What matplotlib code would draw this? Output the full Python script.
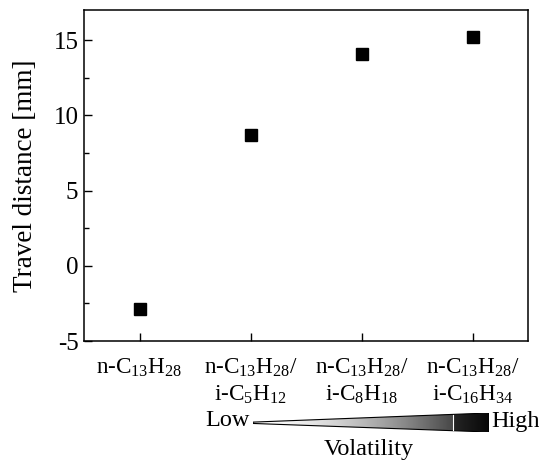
import matplotlib
matplotlib.use("Agg")
import matplotlib.pyplot as plt
import numpy as np
from matplotlib.patches import Polygon

plt.rcParams['font.family'] = ['Liberation Serif', 'DejaVu Serif']
plt.rcParams['mathtext.fontset'] = 'custom'
plt.rcParams['mathtext.rm'] = 'Liberation Serif'
plt.rcParams['mathtext.it'] = 'Liberation Serif:italic'
plt.rcParams['axes.unicode_minus'] = False

categories = ["n-C$_{13}$H$_{28}$",
              "n-C$_{13}$H$_{28}$/\ni-C$_5$H$_{12}$",
              "n-C$_{13}$H$_{28}$/\ni-C$_8$H$_{18}$",
              "n-C$_{13}$H$_{28}$/\ni-C$_{16}$H$_{34}$"]
travel = [-2.9, 8.7, 14.1, 15.2]
yticks = [-5, 0, 5, 10, 15]

fig = plt.figure(figsize=(5.39, 4.66), dpi=100)
ax = fig.add_axes([84/539, 1-341/466, (528-84)/539, (341-10)/466])
x = np.arange(len(categories))
ax.plot(x, travel, 's', color='black', markersize=8.5, linestyle='none')
ax.set_xlim(-0.5, 3.5)
ax.set_ylim(-5, 17)
ax.set_yticks(yticks)
ax.set_yticklabels([str(v) for v in yticks])
ax.set_yticks(np.arange(-2.5, 17, 5), minor=True)
ax.set_xticks(x)
ax.set_xticklabels(categories, linespacing=1.3)
ax.tick_params(axis='both', direction='in', labelsize=18, width=1, length=6)
ax.tick_params(axis='y', which='minor', direction='in', length=3.5, width=1)
ax.tick_params(axis='y', pad=4)
ax.tick_params(axis='x', pad=11)
ax.tick_params(axis='x', labelsize=16.7)
for tl in ax.get_xticklabels():
    tl.set_verticalalignment('top')
for s in ax.spines.values():
    s.set_linewidth(1.1)
ax.set_ylabel("Travel distance [mm]", fontsize=19.5, labelpad=11)

# Volatility gradient wedge
gx0, gx1 = 253/539, 489/539
gy0, gy1 = 1-432/466, 1-413/466
gax = fig.add_axes([gx0, gy0, gx1-gx0, gy1-gy0])
gax.set_axis_off()
gax.set_xlim(0, 1)
gax.set_ylim(0, 1)
split = (453-253)/(489-253)
t = np.linspace(0, 1, 400)
dark = np.where(t < split, 0.72*(t/split)**1.6, 0.85 + 0.12*(t-split)/(1-split))
gimg = gax.imshow(dark[np.newaxis, :], cmap='gray_r', vmin=0, vmax=1,
                  extent=[0, 1, 0, 1], aspect='auto')
tri = Polygon([[0, 0.45], [0, 0.52], [1, 1], [1, 0]], closed=True,
              facecolor='none', edgecolor='black', linewidth=0.8,
              transform=gax.transData)
gax.add_patch(tri)
gimg.set_clip_path(tri)
gax.axvline(split, ymin=0.1, ymax=0.9, color='white', linewidth=0.8)

fig.text(250/539, 1-421/466, "Low", ha='right', va='center', fontsize=17.5)
fig.text(491/539, 1-421/466, "High", ha='left', va='center', fontsize=17.5)
fig.text(369/539, 1-450/466, "Volatility", ha='center', va='center', fontsize=17.5)

fig.savefig("out.png", dpi=100)
